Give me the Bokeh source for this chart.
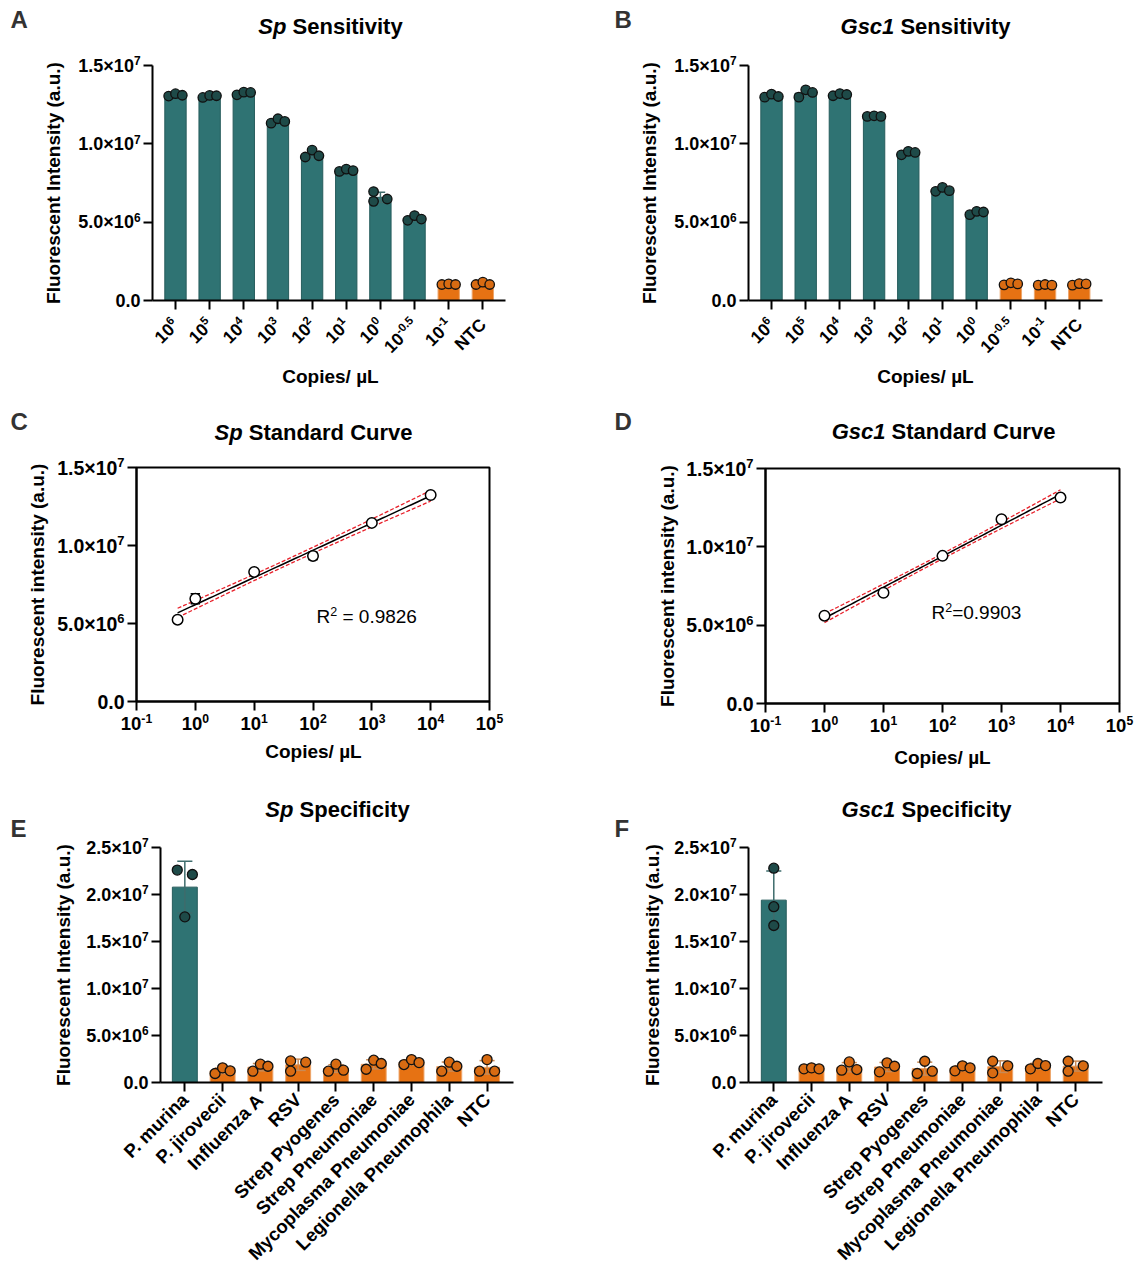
import numpy as np
from bokeh.plotting import figure
from bokeh.layouts import column, row
from bokeh.models import Range1d, FixedTicker, Label, BoxAnnotation
from bokeh.embed import file_html
from bokeh.resources import INLINE

FONT = "Liberation Sans"
M = 1e6  # replicate values below are in units of 10^6 a.u.

# ---------------- data ----------------
# "^" marks the start of a superscript
sens_labels = ["10^6", "10^5", "10^4", "10^3", "10^2", "10^1", "10^0", "10^-0.5", "10^-1", "NTC"]

sp_sens = [
    [13.05, 13.20, 13.10],
    [12.96, 13.09, 13.07],
    [13.13, 13.30, 13.28],
    [11.32, 11.60, 11.43],
    [9.16, 9.60, 9.24],
    [8.24, 8.39, 8.29],
    [6.95, 6.33, 6.48],
    [5.12, 5.42, 5.20],
    [1.02, 1.06, 1.02],
    [1.02, 1.17, 1.02],
]
sp_sens_positive = [True] * 8 + [False] * 2

gsc1_sens = [
    [12.98, 13.17, 13.02],
    [12.98, 13.45, 13.28],
    [13.07, 13.21, 13.15],
    [11.75, 11.79, 11.75],
    [9.30, 9.52, 9.45],
    [6.97, 7.22, 7.01],
    [5.48, 5.69, 5.65],
    [1.00, 1.13, 1.06],
    [0.98, 1.02, 0.98],
    [0.98, 1.08, 1.06],
]
gsc1_sens_positive = [True] * 7 + [False] * 3

# standard curves: copies/uL of the positive dilutions (10^4 ... lowest)
sp_std_copies = [10000, 1000, 100, 10, 1, 0.5]
sp_std_reps = sp_sens[2:8]
gsc1_std_copies = [10000, 1000, 100, 10, 1]
gsc1_std_reps = gsc1_sens[2:7]
sp_r2_text = "R^2 = 0.9826"
gsc1_r2_text = "R^2=0.9903"

spec_labels = ["P. murina", "P. jirovecii", "Influenza A", "RSV", "Strep Pyogenes",
               "Strep Pneumoniae", "Mycoplasma Pneumoniae", "Legionella Pneumophila", "NTC"]
sp_spec = [
    [22.60, 17.62, 22.13],
    [0.96, 1.56, 1.24],
    [1.20, 1.95, 1.73],
    [2.30, 1.20, 2.16],
    [1.20, 1.95, 1.31],
    [1.41, 2.37, 2.02],
    [1.91, 2.44, 2.12],
    [1.20, 2.16, 1.73],
    [1.20, 2.44, 1.20],
]
gsc1_spec = [
    [22.80, 18.70, 16.70],
    [1.45, 1.56, 1.45],
    [1.31, 2.19, 1.38],
    [1.13, 2.09, 1.73],
    [0.96, 2.26, 1.20],
    [1.24, 1.77, 1.56],
    [2.26, 1.03, 1.77],
    [1.45, 2.02, 1.80],
    [2.26, 1.20, 1.77],
]
spec_positive = [True] + [False] * 8

sens_yticks = [0, 5e6, 1e7, 1.5e7]
sens_yticklabels = ["0.0", "5.0×10^6", "1.0×10^7", "1.5×10^7"]
spec_yticks = [0, 5e6, 1e7, 1.5e7, 2e7, 2.5e7]
spec_yticklabels = ["0.0", "5.0×10^6", "1.0×10^7", "1.5×10^7", "2.0×10^7", "2.5×10^7"]
std_xticks = [0.1, 1, 10, 100, 1000, 10000, 100000]
std_xticklabels = ["10^-1", "10^0", "10^1", "10^2", "10^3", "10^4", "10^5"]

# ---------------- style ----------------
TEAL, TEAL_DOT, TEAL_EDGE, TEAL_ERR = "#2F7373", "#1E4A48", "#265C5C", "#3E6C6C"
ORANGE, ORANGE_DOT, ORANGE_EDGE, ORANGE_ERR = "#E67213", "#D86B12", "#EDA56B", "#C98A55"

# Arial/Liberation Sans advance widths (1/1000 em)
BW = {" ": 278, "1": 556, "C": 722, "G": 778, "S": 667, "a": 556, "c": 556, "d": 611,
      "e": 556, "f": 333, "i": 278, "n": 611, "p": 611, "r": 389, "s": 556, "t": 333,
      "u": 611, "v": 556, "y": 556, ".": 278, "×": 584, "-": 333, "N": 722, "T": 611,
      "R": 722, "=": 584}


def tw(s, size):
    return sum(BW.get(ch, 556) for ch in s) * size / 1000.0


def new_fig(fig_box, area, xd, yd, log_x=False, boxed=False):
    """Figure whose frame covers the whole panel; the axes sit at fixed data positions."""
    x0, y0, x1, y1 = fig_box
    l, t, r, b = area
    X0, X1 = (np.log10(xd[0]), np.log10(xd[1])) if log_x else xd
    sx = (r - l) / (X1 - X0)
    xs, xe = X0 - (l - x0) / sx, X1 + (x1 - r) / sx
    if log_x:
        xs, xe = 10 ** xs, 10 ** xe
    sy = (b - t) / (yd[1] - yd[0])
    ys, ye = yd[0] - (y1 - b) / sy, yd[1] + (t - y0) / sy
    p = figure(width=x1 - x0, height=y1 - y0, x_range=Range1d(xs, xe), y_range=Range1d(ys, ye),
               x_axis_type="log" if log_x else "linear", output_backend="svg",
               toolbar_location=None, title=None, min_border=0)
    p.grid.visible = False
    p.background_fill_color = "white"
    p.border_fill_color = "white"
    p.outline_line_color = None
    p.xaxis.fixed_location = yd[0]
    p.xaxis.bounds = tuple(xd)
    p.yaxis.fixed_location = xd[0]
    p.yaxis.bounds = tuple(yd)
    for ax in p.axis:
        ax.axis_line_width = 2
        ax.axis_line_color = "black"
        ax.major_tick_line_width = 2
        ax.major_tick_line_color = "black"
        ax.major_tick_out = 9
        ax.major_tick_in = 0
        ax.minor_tick_line_color = None
        ax.major_label_text_font = FONT
        ax.major_label_text_font_style = "bold"
        ax.major_label_text_color = "black"
        ax.major_label_standoff = 3
    p.yaxis.major_label_text_color = None  # tick texts drawn below with real superscripts
    if boxed:
        p.add_layout(BoxAnnotation(left=xd[0], right=xd[1], bottom=yd[0], top=yd[1],
                                   fill_color=None, fill_alpha=0, line_color="black",
                                   line_alpha=1.0, line_width=2))
    return p


def txt(p, fig_box, x, y, text, size, style="bold", align="left", angle=0.0, color="black"):
    """Text whose vertical middle sits at page pixel y."""
    x0, y0, x1, y1 = fig_box
    p.add_layout(Label(x=x - x0, y=y1 - y, x_units="screen", y_units="screen", text=text,
                       text_font=FONT, text_font_size=f"{size}px", text_font_style=style,
                       text_align=align, text_baseline="middle", angle=angle,
                       text_color=color))


def sup_label(p, x, y, x_units, y_units, label, size, align, angle=0.0, style="bold"):
    """'base^sup rest' drawn as base text, a smaller raised superscript, then the rest."""
    base, _, tail = label.partition("^")
    k = 0
    while k < len(tail) and tail[k] in "0123456789-.":
        k += 1
    sup, rest = tail[:k], tail[k:]
    gap = tw(" ", size) if rest.startswith(" ") else 0.0
    rest = rest.strip()
    ss = round(size * 0.66, 1)
    c, s = np.cos(angle), np.sin(angle)
    wb, ws, wr = tw(base, size), tw(sup, ss), gap + tw(rest, size)
    W = wb + ws + wr
    u0 = {"right": -W, "center": -W / 2, "left": 0.0}[align]
    v = 0.26 * size
    parts = [(base, u0, 0.0, size), (sup, u0 + wb, v, ss), (rest, u0 + wb + ws + gap, 0.0, size)]
    for text, u, vv, fs in parts:
        if not text:
            continue
        p.add_layout(Label(x=x, y=y, x_units=x_units, y_units=y_units,
                           x_offset=u * c - vv * s, y_offset=u * s + vv * c,
                           text=text, angle=angle, text_align="left", text_baseline="middle",
                           text_font=FONT, text_font_size=f"{fs}px", text_font_style=style,
                           text_color="black"))


def y_ticklabels(p, fig_box, area, ticks, labels, size):
    p.yaxis.ticker = FixedTicker(ticks=ticks)
    xs = area[0] - 12 - fig_box[0]
    for t, lab in zip(ticks, labels):
        sup_label(p, xs, t, "screen", "data", lab, size, "right")


def bar_panel(fig_box, area, reps, positive, labels, xd, ymax, yticks, ylabels,
              jitter, bar_w, dot_size, cap_hw, cat_size, cat_standoff, sup_ticks):
    reps = np.array(reps) * M
    means = reps.mean(axis=1)
    sds = reps.std(axis=1, ddof=1)
    n = len(reps)
    x = np.arange(n)
    p = new_fig(fig_box, area, xd, (0, ymax))
    p.vbar(x=x, top=means, bottom=0, width=bar_w,
           fill_color=[TEAL if pos else ORANGE for pos in positive],
           line_color=[TEAL_EDGE if pos else ORANGE_EDGE for pos in positive], line_width=1)
    ecol = [TEAL_ERR if pos else ORANGE_ERR for pos in positive]
    lo, hi = means - sds, means + sds
    p.segment(x0=x, x1=x, y0=lo, y1=hi, line_color=ecol, line_width=1.5)
    p.segment(x0=x - cap_hw, x1=x + cap_hw, y0=hi, y1=hi, line_color=ecol, line_width=1.5)
    p.segment(x0=x - cap_hw, x1=x + cap_hw, y0=lo, y1=lo, line_color=ecol, line_width=1.5)
    xs, ys, fc = [], [], []
    for i in range(n):
        for k in range(reps.shape[1]):
            xs.append(i + jitter.get(i, [-0.2, 0.0, 0.2])[k])
            ys.append(reps[i, k])
            fc.append(TEAL_DOT if positive[i] else ORANGE_DOT)
    p.scatter(x=xs, y=ys, size=dot_size, marker="circle", fill_color=fc,
              line_color="#111111", line_width=1.3)
    p.xaxis.ticker = FixedTicker(ticks=list(range(n)))
    if sup_ticks:
        p.xaxis.major_label_text_color = None
        ys_screen = fig_box[3] - (area[3] + 9 + cat_standoff)
        for i, lab in enumerate(labels):
            sup_label(p, i, ys_screen, "data", "screen", lab, cat_size, "right", np.pi / 4)
    else:
        p.xaxis.major_label_overrides = {i: lab for i, lab in enumerate(labels)}
        p.xaxis.major_label_orientation = np.pi / 4
        p.xaxis.major_label_text_font_size = f"{cat_size}px"
        p.xaxis.major_label_standoff = cat_standoff
    y_ticklabels(p, fig_box, area, yticks, ylabels, 18)
    return p


def std_panel(fig_box, area, copies, reps, tval, r2_text, r2_xy):
    reps = np.array(reps) * M
    copies = np.array(copies, dtype=float)
    means = reps.mean(axis=1)
    sds = reps.std(axis=1, ddof=1)
    lx = np.repeat(np.log10(copies), reps.shape[1])
    yy = reps.ravel()
    slope, intercept = np.polyfit(lx, yy, 1)
    nobs = len(yy)
    s = np.sqrt(np.sum((yy - (intercept + slope * lx)) ** 2) / (nobs - 2))
    sxx = np.sum((lx - lx.mean()) ** 2)
    g = np.linspace(lx.min(), lx.max(), 80)
    yhat = intercept + slope * g
    half = tval * s * np.sqrt(1.0 / nobs + (g - lx.mean()) ** 2 / sxx)

    p = new_fig(fig_box, area, (0.1, 1e5), (0, 1.5e7), log_x=True, boxed=True)
    p.line(10 ** g, yhat + half, line_color="#E8202A", line_width=1.3, line_dash="4 2")
    p.line(10 ** g, yhat - half, line_color="#E8202A", line_width=1.3, line_dash="4 2")
    p.line(10 ** g, yhat, line_color="black", line_width=1.5)
    lo, hi = means - sds, means + sds
    p.segment(x0=copies, x1=copies, y0=lo, y1=hi, line_color="black", line_width=1.5)
    p.segment(x0=copies * 10 ** -0.08, x1=copies * 10 ** 0.08, y0=hi, y1=hi,
              line_color="black", line_width=1.5)
    p.segment(x0=copies * 10 ** -0.08, x1=copies * 10 ** 0.08, y0=lo, y1=lo,
              line_color="black", line_width=1.5)
    p.scatter(x=copies, y=means, size=10.5, marker="circle", fill_color="white",
              line_color="black", line_width=1.5)
    p.xaxis.ticker = FixedTicker(ticks=std_xticks)
    p.xaxis.major_label_text_color = None
    ys_screen = fig_box[3] - (area[3] + 21.5)
    for t, lab in zip(std_xticks, std_xticklabels):
        sup_label(p, t, ys_screen, "data", "screen", lab, 18.5, "center")
    y_ticklabels(p, fig_box, area, sens_yticks, sens_yticklabels, 19.5)
    sup_label(p, r2_xy[0] - fig_box[0], fig_box[3] - r2_xy[1], "screen", "screen",
              r2_text, 19, "left", style="normal")
    return p


# ---------------- panels ----------------
# figure boxes and plotting areas in page pixels (x0, y0, x1, y1) / (left, top, right, bottom)
fA, aA = (0, 0, 570, 400), (152, 65, 505, 300)
fB, aB = (570, 0, 1136, 400), (748, 65, 1102, 300)
fC, aC = (0, 400, 570, 790), (136, 467, 489, 701)
fD, aD = (570, 400, 1136, 790), (765, 468, 1119, 703)
fE, aE = (0, 790, 570, 1264), (160, 847, 513, 1082)
fF, aF = (570, 790, 1136, 1264), (748, 847, 1102, 1082)

pA = bar_panel(fA, aA, sp_sens, sp_sens_positive, sens_labels, (-0.673, 9.663), 1.5e7,
               sens_yticks, sens_yticklabels, {6: [-0.2, -0.2, 0.2]}, 0.625, 9.5, 0.14,
               17.5, 12, True)
txt(pA, fA, 10, 19, "A", 24, color="#333333")
txt(pA, fA, 330, 375.5, "Copies/ µL", 19, align="center")
txt(pA, fA, 53, 182.5, "Fluorescent Intensity (a.u.)", 19, align="center", angle=np.pi / 2)

pB = bar_panel(fB, aB, gsc1_sens, gsc1_sens_positive, sens_labels, (-0.673, 9.68), 1.5e7,
               sens_yticks, sens_yticklabels, {}, 0.625, 9.5, 0.14, 17.5, 12, True)
txt(pB, fB, 614, 19, "B", 24, color="#333333")
txt(pB, fB, 925, 375.5, "Copies/ µL", 19, align="center")
txt(pB, fB, 649, 182.5, "Fluorescent Intensity (a.u.)", 19, align="center", angle=np.pi / 2)

pC = std_panel(fC, aC, sp_std_copies, sp_std_reps, 2.120, sp_r2_text, (316, 616))
txt(pC, fC, 10, 421, "C", 24, color="#333333")
txt(pC, fC, 313, 751, "Copies/ µL", 19, align="center")
txt(pC, fC, 37, 584, "Fluorescent intensity (a.u.)", 19, align="center", angle=np.pi / 2)

pD = std_panel(fD, aD, gsc1_std_copies, gsc1_std_reps, 2.160, gsc1_r2_text, (931, 612))
txt(pD, fD, 614, 421, "D", 24, color="#333333")
txt(pD, fD, 942, 757, "Copies/ µL", 19, align="center")
txt(pD, fD, 667, 585.5, "Fluorescent intensity (a.u.)", 19, align="center", angle=np.pi / 2)

pE = bar_panel(fE, aE, sp_spec, spec_positive, spec_labels, (-0.644, 8.70), 2.5e7,
               spec_yticks, spec_yticklabels, {3: [-0.2, -0.2, 0.2]}, 0.66, 10, 0.2,
               18.5, 5, False)
txt(pE, fE, 10, 828, "E", 24, color="#333333")
txt(pE, fE, 63, 964.5, "Fluorescent Intensity (a.u.)", 19, align="center", angle=np.pi / 2)

pF = bar_panel(fF, aF, gsc1_spec, spec_positive, spec_labels, (-0.67, 8.71), 2.5e7,
               spec_yticks, spec_yticklabels,
               {0: [0.0, 0.0, 0.0], 6: [-0.2, -0.2, 0.2], 8: [-0.2, -0.2, 0.2]},
               0.66, 10, 0.2, 18.5, 5, False)
txt(pF, fF, 614, 828, "F", 24, color="#333333")
txt(pF, fF, 652, 964.5, "Fluorescent Intensity (a.u.)", 19, align="center", angle=np.pi / 2)


def title(p, fig_box, cx, mid_y, italic_part, rest, size=22):
    total = tw(italic_part + " " + rest, size)
    x_start = cx - total / 2
    txt(p, fig_box, x_start, mid_y, italic_part, size, style="bold italic")
    txt(p, fig_box, x_start + tw(italic_part + " ", size), mid_y, rest, size)


title(pA, fA, 330, 26, "Sp", "Sensitivity")
title(pB, fB, 925, 26, "Gsc1", "Sensitivity")
title(pC, fC, 313, 432, "Sp", "Standard Curve")
title(pD, fD, 943, 431, "Gsc1", "Standard Curve")
title(pE, fE, 337, 809, "Sp", "Specificity")
title(pF, fF, 926, 809, "Gsc1", "Specificity")

layout = column(row(pA, pB), row(pC, pD), row(pE, pF))

open("out.html", "w").write(file_html(layout, INLINE))
